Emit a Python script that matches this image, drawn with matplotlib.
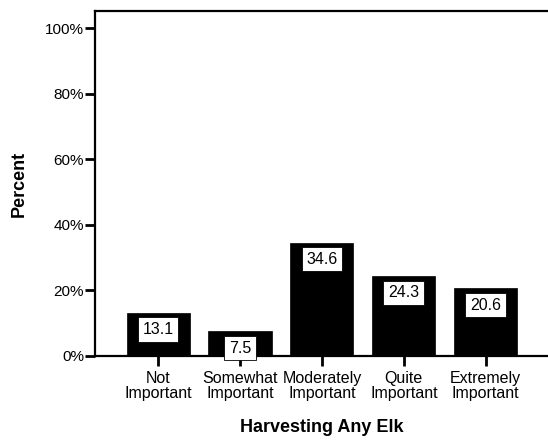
import matplotlib
matplotlib.use("Agg")
import matplotlib.pyplot as plt
from matplotlib.ticker import FuncFormatter

categories = ["Not\nImportant", "Somewhat\nImportant", "Moderately\nImportant",
              "Quite\nImportant", "Extremely\nImportant"]
percents = [13.1, 7.5, 34.6, 24.3, 20.6]
y_ticks = [0, 20, 40, 60, 80, 100]

plt.rcParams["font.family"] = ["Liberation Sans", "DejaVu Sans"]

fig = plt.figure(figsize=(5.48, 4.4), dpi=100)
ax = fig.add_axes([0.1734, 0.191, 0.8266, 0.784])

x = list(range(len(categories)))
ax.bar(x, percents, width=0.77, color="black", edgecolor="black", linewidth=0.5, zorder=2)

# value boxes sit a fixed distance below the top of each bar
for xi, v in zip(x, percents):
    ax.annotate(f"{v}", xy=(xi, v), xytext=(0, -12), textcoords="offset points",
                ha="center", va="center", fontsize=11.5, color="black", zorder=4,
                bbox=dict(boxstyle="square,pad=0.3", fc="white", ec="black", lw=0.6))

ax.set_xlim(-0.77, 4.76)
ax.set_ylim(0, 105.2)
ax.set_yticks(y_ticks)
ax.yaxis.set_major_formatter(FuncFormatter(lambda v, p: f"{int(v)}%"))
ax.set_xticks(x)
ax.set_xticklabels(categories, fontsize=11.5, linespacing=1.0)
ax.tick_params(axis="y", labelsize=11, length=7, width=2, pad=1)
ax.tick_params(axis="x", length=7, width=2, pad=4)

for side in ["left", "bottom", "top"]:
    ax.spines[side].set_linewidth(1.6)
ax.spines["right"].set_visible(False)
ax.spines["bottom"].set_zorder(3)

ax.set_ylabel("Percent", fontsize=13, fontweight="bold", labelpad=12)
ax.set_xlabel("Harvesting Any Elk", fontsize=13, fontweight="bold", labelpad=13)

fig.savefig("out.png", dpi=100)
